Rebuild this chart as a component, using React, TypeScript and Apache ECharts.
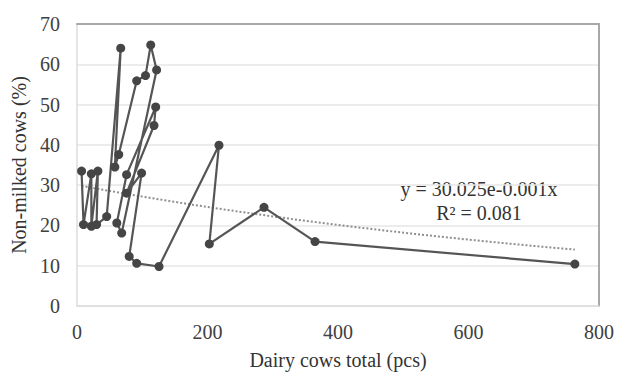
import React, { useEffect, useRef } from "react";
import * as echarts from "echarts";

// Dairy cows total (pcs) and share of non-milked cows (%) in data order
const cowsTotal = [7, 10, 22, 22, 32, 30, 45.5, 67, 58, 64, 91.5, 105, 113, 122, 68.5, 61, 76, 120.6, 118, 76, 99, 80, 91.5, 125.7, 217.6, 202.8, 286.6, 364.8, 763];
const nonMilked = [33.5, 20.2, 32.8, 19.8, 33.5, 20.2, 22.2, 64, 34.5, 37.6, 55.9, 57.2, 64.8, 58.6, 18.1, 20.6, 32.6, 49.4, 44.8, 28, 33, 12.3, 10.6, 9.8, 39.9, 15.4, 24.5, 16, 10.4];

// Exponential trendline as stated in the chart
const trendA = 30.025;
const trendB = -0.001;
const trendLabel = "y = 30.025e-0.001x";
const r2Label = "R² = 0.081";

const xTicks = [0, 800, 200];
const yTicks = [0, 70, 10];

export default function App() {
  const ref = useRef<HTMLDivElement>(null);
  useEffect(() => {
    if (!ref.current) return;
    const chart = echarts.init(ref.current, null, { renderer: "svg" });
    const pts = cowsTotal.map((x, i) => [x, nonMilked[i]]);
    const xMin = Math.min(...cowsTotal);
    const xMax = Math.max(...cowsTotal);
    const trend: number[][] = [];
    const steps = 40;
    for (let i = 0; i <= steps; i++) {
      const x = xMin + ((xMax - xMin) * i) / steps;
      trend.push([x, trendA * Math.exp(trendB * x)]);
    }
    const font = "Liberation Serif";
    chart.setOption({
      animation: false,
      backgroundColor: "#ffffff",
      grid: { left: 77, right: 27, top: 24, bottom: 70 },
      xAxis: [
        {
          type: "value",
          min: xTicks[0],
          max: xTicks[1],
          interval: xTicks[2],
          name: "Dairy cows total (pcs)",
          nameLocation: "middle",
          nameGap: 44,
          nameTextStyle: { fontFamily: font, fontSize: 20, color: "#333" },
          axisLine: { show: true, lineStyle: { color: "#dcdcdc", width: 1.5 } },
          axisTick: { show: false },
          splitLine: { show: false },
          axisLabel: { fontFamily: font, fontSize: 20, color: "#404040", margin: 16 },
        },
        {
          type: "value",
          position: "top",
          min: xTicks[0],
          max: xTicks[1],
          axisLine: { show: true, onZero: false, lineStyle: { color: "#a8a8a8", width: 2 } },
          axisTick: { show: false },
          axisLabel: { show: false },
          splitLine: { show: false },
        },
      ],
      yAxis: [
        {
          type: "value",
          min: yTicks[0],
          max: yTicks[1],
          interval: yTicks[2],
          name: "Non-milked cows (%)",
          nameLocation: "middle",
          nameGap: 45,
          nameTextStyle: { fontFamily: font, fontSize: 20, color: "#333" },
          axisLine: { show: true, lineStyle: { color: "#dcdcdc", width: 1.5 } },
          axisTick: { show: false },
          splitLine: { show: true, lineStyle: { color: "#e6e6e6", width: 1.5 } },
          axisLabel: { fontFamily: font, fontSize: 20, color: "#404040", margin: 17 },
        },
        {
          type: "value",
          position: "right",
          min: yTicks[0],
          max: yTicks[1],
          axisLine: { show: true, onZero: false, lineStyle: { color: "#a8a8a8", width: 2 } },
          axisTick: { show: false },
          axisLabel: { show: false },
          splitLine: { show: false },
        },
      ],
      series: [
        {
          type: "line",
          data: trend,
          showSymbol: false,
          symbol: "none",
          z: 1,
          lineStyle: { color: "#8f8f8f", width: 2, type: [2, 2] },
        },
        {
          type: "line",
          data: pts,
          symbol: "circle",
          symbolSize: 9,
          z: 2,
          itemStyle: { color: "#454545" },
          lineStyle: { color: "#555555", width: 2.2 },
        },
      ],
      graphic: [
        {
          type: "text",
          x: 479,
          y: 189,
          style: {
            text: trendLabel,
            fontFamily: font,
            fontSize: 20,
            fill: "#333",
            align: "center",
            verticalAlign: "middle",
          },
        },
        {
          type: "text",
          x: 479,
          y: 213,
          style: {
            text: r2Label,
            fontFamily: font,
            fontSize: 20,
            fill: "#333",
            align: "center",
            verticalAlign: "middle",
          },
        },
      ],
    });
    return () => chart.dispose();
  }, []);
  return (
    <div
      ref={ref}
      style={{ position: "fixed", left: 0, top: 0, width: 626, height: 376 }}
    />
  );
}
